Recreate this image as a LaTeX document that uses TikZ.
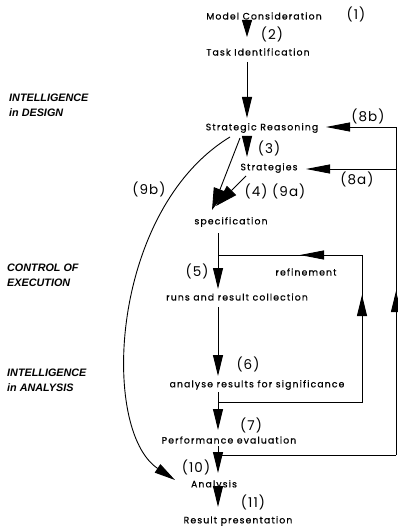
\documentclass[tikz,border=0pt]{standalone}
\usepackage{fontspec}
\setmainfont{Poppins}
\newfontfamily\lblfont{Poppins}[FakeBold=0.6,LetterSpace=12]
\newfontfamily\numfont{Poppins}[LetterSpace=8]
\newfontfamily\sidefont{Liberation Sans}
\usetikzlibrary{arrows.meta}
\begin{document}
\begin{tikzpicture}[x=1pt,y=-1pt,
  lbl/.style={inner sep=0pt,font=\lblfont\fontsize{9.3}{9}\selectfont},
  num/.style={inner sep=0pt,font=\numfont\fontsize{13.5}{14}\selectfont},
  side/.style={inner sep=0pt,anchor=west,align=left,font=\sidefont\bfseries\itshape\fontsize{10.8}{15}\selectfont},
  ln/.style={line width=0.9pt},
  arr/.style={ln,-{Triangle[length=21pt,width=10pt]}},
  barr/.style={ln,-{Triangle[length=22pt,width=13pt]}},
  harr/.style={ln,-{Triangle[length=24pt,width=9pt]}},
  sarr/.style={ln,-{Triangle[length=17pt,width=10pt]}}]
\useasboundingbox (0,0) rectangle (397,526);
% side labels
\node[side] (s1) at (9,105) {INTELLIGENCE\\in DESIGN};
\node[side] (s2) at (7,275) {CONTROL OF\\EXECUTION};
\node[side] (s3) at (7,380) {INTELLIGENCE\\in ANALYSIS};
% text nodes
\node[lbl] (mc) at (264,16) {Model Consideration};
\node[num] (n1) at (356,14) {(1)};
\node[num] (n2) at (272,34) {(2)};
\node[lbl] (ti) at (258,52) {Task Identification};
\node[lbl] (sr) at (262,128) {Strategic Reasoning};
\node[num] (n8b) at (368,116) {(8b)};
\node[num] (n3) at (269,148) {(3)};
\node[lbl] (st) at (269,168) {Strategies};
\node[num] (n8a) at (357,179) {(8a)};
\node[num] (n9b) at (149,189) {(9b)};
\node[num] (n4) at (275,191) {(4) (9a)};
\node[lbl] (sp) at (231,222) {specification};
\node[num] (n5) at (197,271) {(5)};
\node[lbl] (rf) at (306,272) {refinement};
\node[lbl] (rn) at (237,297) {runs and result collection};
\node[num] (n6) at (248,364) {(6)};
\node[lbl] (an) at (257,385) {analyse results for significance};
\node[num] (n7) at (251,425) {(7)};
\node[lbl] (pe) at (229,440) {Performance evaluation};
\node[num] (n10) at (196,467) {(10)};
\node[lbl] (ay) at (214,485) {Analysis};
\node[num] (n11) at (253,502) {(11)};
\node[lbl] (rp) at (238,521) {Result presentation};
% coordinates
\coordinate (c1a) at (247,20);  \coordinate (c1b) at (247,37);
\coordinate (c2a) at (247,62);  \coordinate (c2b) at (247,118);
\coordinate (c3a) at (247,136); \coordinate (c3b) at (247,157);
\coordinate (c4a) at (240,138); \coordinate (c4b) at (212,210);
\coordinate (c4c) at (246,176); \coordinate (c4d) at (216,206);
\coordinate (R8b) at (396,127); \coordinate (t8b) at (326,127);
\coordinate (R8a) at (396,169); \coordinate (t8a) at (306,169);
\coordinate (Rbot) at (396,455); \coordinate (Rup) at (396,291);
\coordinate (c5a) at (218,233); \coordinate (c5b) at (218,289);
\coordinate (rfL) at (218,255); \coordinate (rfR) at (362,255);
\coordinate (rfT) at (300,255);
\coordinate (lpB) at (218,402); \coordinate (lpR) at (362,402);
\coordinate (lpU) at (362,295);
\coordinate (c6a) at (218,307); \coordinate (c6b) at (218,376);
\coordinate (c7a) at (218,392); \coordinate (c7b) at (218,430);
\coordinate (c8a) at (218,446); \coordinate (c8b) at (218,473);
\coordinate (c8c) at (218,455);
\coordinate (c9a) at (218,489); \coordinate (c9b) at (218,507);
\coordinate (c10a) at (230,137); \coordinate (c10b) at (175,480);
% connectors
\draw[sarr] (c1a) -- (c1b);
\draw[arr] (c2a) -- (c2b);
\draw[arr] (c3a) -- (c3b);
\draw[barr] (c4a) -- (c4b);
\draw[barr] (c4c) -- (c4d);
\draw[ln] (R8b) -- (Rbot);
\draw[harr] (R8b) -- (t8b);
\draw[harr] (R8a) -- (t8a);
\draw[arr] (Rbot) -- (Rup);
\draw[arr] (c5a) -- (c5b);
\draw[ln] (rfL) -- (rfR) -- (lpR) -- (lpB);
\draw[harr] (rfR) -- (rfT);
\draw[arr] (lpR) -- (lpU);
\draw[arr] (c6a) -- (c6b);
\draw[arr] (c7a) -- (c7b);
\draw[ln] (Rbot) -- (c8c);
\draw[arr] (c8a) -- (c8b);
\draw[arr] (c9a) -- (c9b);
\draw[arr] (c10a) .. controls (110,210) and (100,430) .. (c10b);
\end{tikzpicture}
\end{document}
